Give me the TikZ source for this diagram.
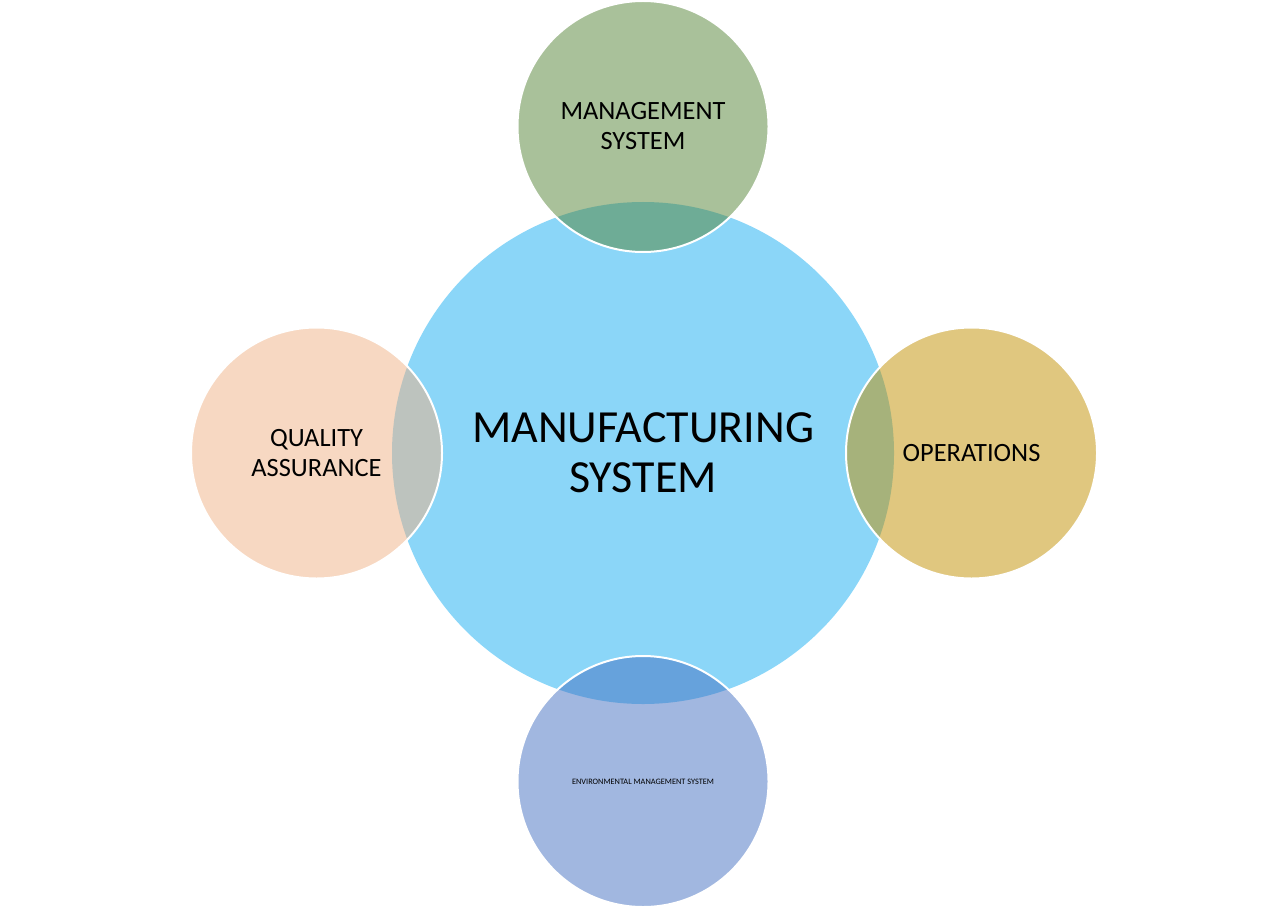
\documentclass[tikz,border=0pt]{standalone}
\usepackage{fontspec}
\setmainfont{Carlito}
\usepackage{tikz}
\usetikzlibrary{positioning}
\definecolor{skyblue}{RGB}{139, 214, 248}
\definecolor{mgmtgreen}{RGB}{83, 131, 53}
\definecolor{opsgold}{RGB}{193, 143, 0}
\definecolor{qapeach}{RGB}{239, 177, 133}
\definecolor{envblue}{RGB}{67, 111, 193}

\begin{document}
\begin{tikzpicture}[x=0.5pt, y=-0.5pt, inner sep=0pt, outer sep=0pt,
    part/.style={circle, draw=white, line width=1pt, fill opacity=0.5, text opacity=1,
      minimum size=125.5pt, align=center, font=\fontsize{13.2}{15}\selectfont}]
    \useasboundingbox (0,0) rectangle (1288,909);
    % centre
    \node[circle, fill=skyblue, minimum size=251pt, align=center,
      font=\fontsize{23}{25}\selectfont] (ms) at (643,453) {MANUFACTURING\\SYSTEM};
    % the four parts round it
    \node[part, fill=mgmtgreen, above=-25pt of ms] (mg) {MANAGEMENT\\SYSTEM};
    \node[part, fill=qapeach, left=-25pt of ms] (qa) {QUALITY\\ASSURANCE};
    \node[part, fill=opsgold, right=-24pt of ms] (op) {OPERATIONS};
    \node[part, fill=envblue, below=-24pt of ms, font=\fontsize{4.15}{5}\selectfont] (ems) {ENVIRONMENTAL MANAGEMENT SYSTEM};
  \end{tikzpicture}
\end{document}
